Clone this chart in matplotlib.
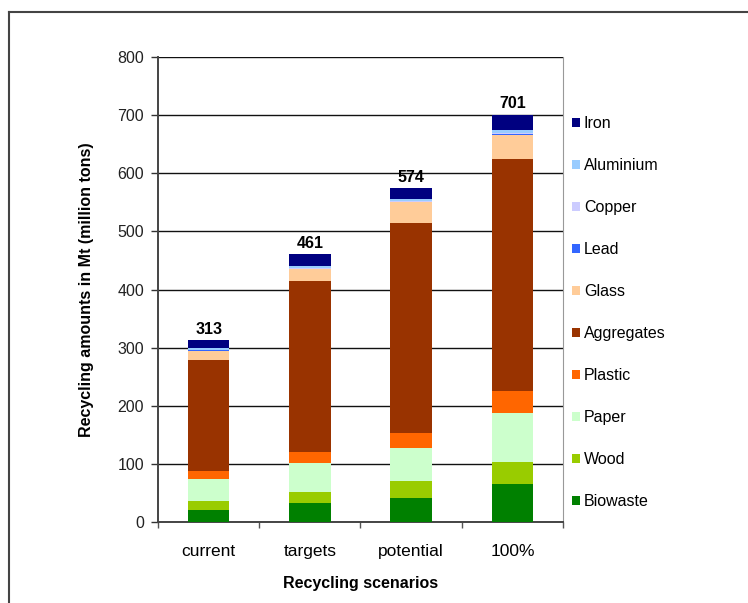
import matplotlib.pyplot as plt
from matplotlib.lines import Line2D
from matplotlib.patches import Patch
import numpy as np

plt.rcParams['font.family'] = ['Liberation Sans', 'DejaVu Sans']

# scenarios on the x axis
scenarios = ['current', 'targets', 'potential', '100%']

# material amounts in Mt, stacked bottom to top
biowaste = [20, 32, 42, 65]
wood = [16, 20, 29, 39]
paper = [38, 50, 57, 83]
plastic = [14, 19, 26, 39]
aggregates = [190, 294, 360, 398]
glass = [17, 20, 36, 42]
lead = [0.5, 1, 1, 1]
copper = [1, 1, 1, 2]
aluminium = [2.5, 3, 3, 5]
iron = [14, 21, 19, 27]

materials = ['Biowaste', 'Wood', 'Paper', 'Plastic', 'Aggregates',
             'Glass', 'Lead', 'Copper', 'Aluminium', 'Iron']
series = [biowaste, wood, paper, plastic, aggregates,
          glass, lead, copper, aluminium, iron]
colors = ['#008000', '#99cc00', '#ccffcc', '#ff6600', '#993300',
          '#ffcc99', '#3366ff', '#ccccff', '#99ccff', '#000080']

fig = plt.figure(figsize=(7.48, 6.03), dpi=100)
ax = fig.add_axes([0.2112, 0.1343, 0.5415, 0.7711])

x = np.arange(len(scenarios))
bottom = np.zeros(len(scenarios))
for vals, col, name in zip(series, colors, materials):
    ax.bar(x, vals, width=0.41, bottom=bottom, color=col, label=name, zorder=3)
    bottom += np.array(vals)

# totals on top of the bars
for xi, tot in zip(x, bottom):
    ax.text(xi, tot + 6, f'{tot:.0f}', ha='center', va='bottom',
            fontsize=11.5, fontweight='bold')

ax.set_xlim(-0.5, 3.5)
ax.set_ylim(0, 800)
ax.set_yticks(range(0, 801, 100))
ax.yaxis.grid(True, color='#111111', linewidth=1.0, zorder=0)
ax.set_axisbelow(True)

ax.set_xticks(x)
ax.set_xticklabels(scenarios, fontsize=12.5)
ax.set_xticks(np.arange(-0.5, 4, 1), minor=True)
ax.tick_params(axis='x', which='major', length=0, pad=16)
ax.tick_params(axis='x', which='minor', length=4, width=1, color='#555555')
ax.tick_params(axis='y', length=5, width=1, color='#333333',
               labelsize=11.5, pad=5, labelcolor='#222222')

for s in ['left', 'bottom']:
    ax.spines[s].set_color('#444444')
    ax.spines[s].set_linewidth(1.4)
ax.spines['right'].set_color('#999999')
ax.spines['top'].set_visible(False)

ax.set_xlabel('Recycling scenarios', fontsize=11.5, fontweight='bold', labelpad=12)
ax.set_ylabel('Recycling amounts in Mt (million tons)', fontsize=11.5,
              fontweight='bold', labelpad=17)

handles = [Patch(facecolor=c, edgecolor='none') for c in colors][::-1]
fig.legend(handles, materials[::-1], loc='upper left',
           bbox_to_anchor=(0.745, 0.831), frameon=False, fontsize=11.5,
           handlelength=0.55, handleheight=0.55, handletextpad=0.22,
           labelspacing=1.69)

# outer chart frame (left and top edges visible)
fig.add_artist(Line2D([9 / 748, 9 / 748], [1 - 12 / 603, 0], transform=fig.transFigure,
                      color='#444444', linewidth=1.5))
fig.add_artist(Line2D([9 / 748, 1], [1 - 12 / 603, 1 - 12 / 603], transform=fig.transFigure,
                      color='#444444', linewidth=1.5))

fig.savefig('out.png', dpi=100)
